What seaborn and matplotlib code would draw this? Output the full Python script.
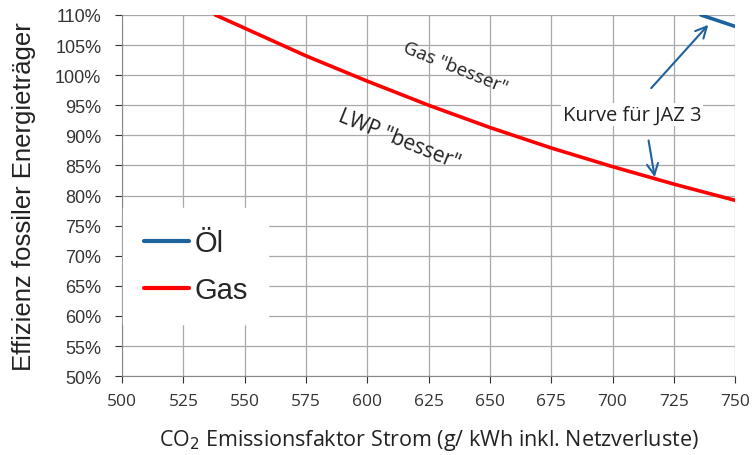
import pandas as pd
import numpy as np
import seaborn as sns
import matplotlib.pyplot as plt
from matplotlib.ticker import PercentFormatter

# values
gas_x = [538, 550, 575, 600, 625, 650, 675, 700, 725, 750]
gas_y = [110.0, 107.8, 103.2, 99.0, 95.0, 91.3, 87.9, 84.8, 81.9, 79.2]
oel_x = [736, 750]
oel_y = [110.0, 108.1]

x_ticks = list(range(500, 751, 25))
y_ticks = list(range(50, 111, 5))

df = pd.concat([
    pd.DataFrame({'x': oel_x, 'y': oel_y, 'Typ': 'Öl'}),
    pd.DataFrame({'x': gas_x, 'y': gas_y, 'Typ': 'Gas'}),
])

sns.set_style('white')
plt.rcParams['font.family'] = ['Liberation Sans', 'DejaVu Sans']
calibri_like = ['Open Sans', 'DejaVu Sans']

fig = plt.figure(figsize=(7.54, 4.56), dpi=100)
ax = fig.add_axes([0.162, 0.173, 0.813, 0.792])

sns.lineplot(data=df, x='x', y='y', hue='Typ', palette={'Öl': '#1f639e', 'Gas': '#ff0000'},
             linewidth=2.6, ax=ax, sort=True, estimator=None)

ax.set_xlim(500, 750)
ax.set_ylim(50, 110)
ax.set_xticks(x_ticks)
ax.set_yticks(y_ticks)
ax.yaxis.set_major_formatter(PercentFormatter(decimals=0))
ax.grid(True, color='#a8a8a8', linewidth=0.9)
ax.set_axisbelow(True)
for s in ['top', 'right']:
    ax.spines[s].set_visible(False)
ax.spines['left'].set_color('#888888')
ax.spines['bottom'].set_color('#888888')
ax.tick_params(axis='both', colors='#333333', length=5, direction='out',
               bottom=True, left=True)
ax.tick_params(axis='y', labelsize=13, pad=10)
ax.tick_params(axis='x', labelsize=12.5, pad=7)
for lab in ax.get_xticklabels():
    lab.set_family(calibri_like)

ax.set_ylabel('Effizienz fossiler Energieträger', fontsize=18.5, color='#222222')
ax.yaxis.set_label_coords(-0.14, 0.5)
ax.set_xlabel('CO$_2$ Emissionsfaktor Strom (g/ kWh inkl. Netzverluste)', fontsize=15.5,
              color='#222222', labelpad=13, family=calibri_like)

leg = ax.legend(loc='upper left', bbox_to_anchor=(0.016, 0.44), fontsize=21, frameon=True,
                handlelength=1.55, handletextpad=0.2, labelspacing=0.65, borderpad=0.4,
                borderaxespad=0)
leg.get_frame().set_edgecolor('white')
leg.get_frame().set_facecolor('white')
leg.get_frame().set_alpha(1)
leg.get_frame().set_boxstyle('square', pad=0.3)
for h in leg.get_lines():
    h.set_linewidth(3)

ax.text(636, 101.4, 'Gas "besser"', rotation=-22, ha='center', va='center', fontsize=13.5,
        color='#222222', family=calibri_like)
ax.text(613, 89.4, 'LWP "besser"', rotation=-22, ha='center', va='center', fontsize=15,
        color='#222222', family=calibri_like)
ax.text(708, 93.4, 'Kurve für JAZ 3', ha='center', va='center', fontsize=14.5,
        color='#222222', family=calibri_like,
        bbox=dict(facecolor='white', edgecolor='none', pad=1))
ax.annotate('', xy=(739.8, 108.7), xytext=(715, 97.5),
            arrowprops=dict(arrowstyle='->', color='#1f639e', lw=1.5, mutation_scale=20))
ax.annotate('', xy=(717.4, 82.6), xytext=(714.5, 89.6),
            arrowprops=dict(arrowstyle='->', color='#1f639e', lw=1.5, mutation_scale=20))

fig.savefig('out.png', dpi=100)
